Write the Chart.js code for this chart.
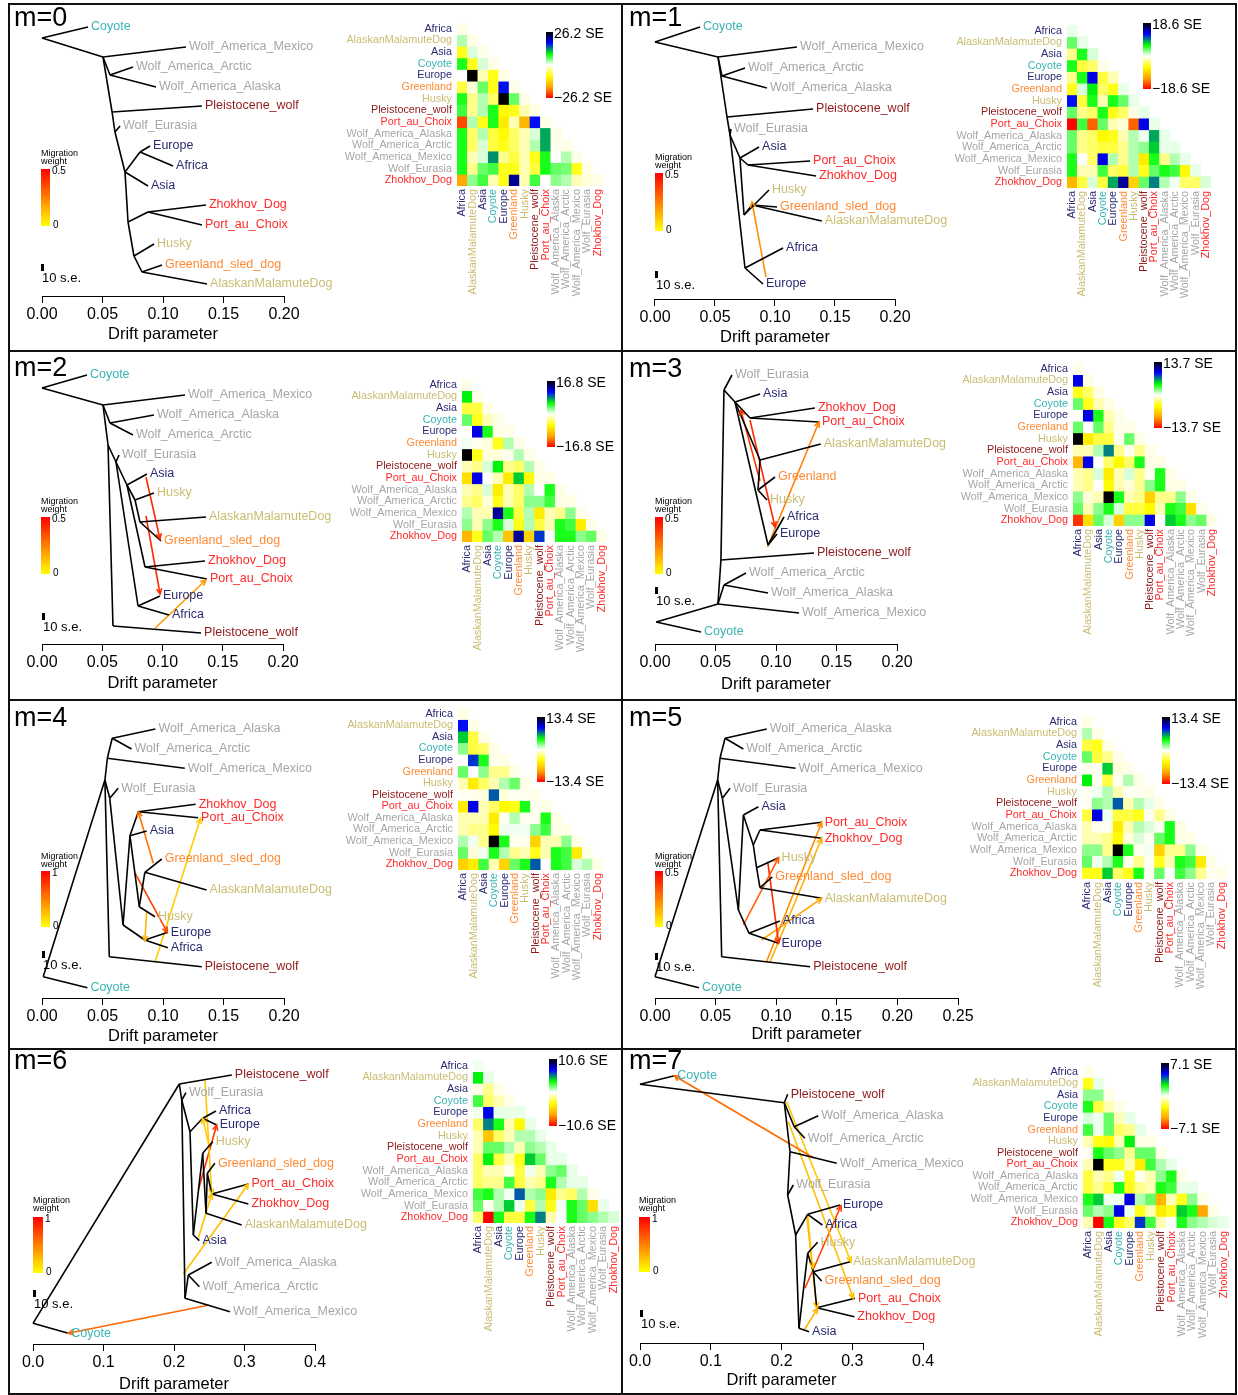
<!DOCTYPE html>
<html>
<head>
<meta charset="utf-8">
<script src="https://cdn.jsdelivr.net/npm/chart.js@4.4.0/dist/chart.umd.min.js"></script>
<style>
body { margin: 0; background: #fff; }
#page { position: relative; width: 1238px; height: 1395px; overflow: hidden; }
canvas { position: absolute; }
.rule { position: absolute; background: #111; }
</style>
</head>
<body>
<div id="page"></div>
<script>
// Populations in residual-matrix order
const pops = ['Africa', 'AlaskanMalamuteDog', 'Asia', 'Coyote', 'Europe', 'Greenland', 'Husky',
    'Pleistocene_wolf', 'Port_au_Choix', 'Wolf_America_Alaska', 'Wolf_America_Arctic',
    'Wolf_America_Mexico', 'Wolf_Eurasia', 'Zhokhov_Dog'];

// max |residual| of each panel's key (SE) and max migration weight of each legend
const seMax = [26.2, 18.6, 16.8, 13.7, 13.4, 13.4, 10.6, 7.1];
const migMax = [0.5, 0.5, 0.5, 0.5, 1, 0.5, 1, 1];
const driftTicks = [
    [0, 0.05, 0.1, 0.15, 0.2], [0, 0.05, 0.1, 0.15, 0.2], [0, 0.05, 0.1, 0.15, 0.2], [0, 0.05, 0.1, 0.15, 0.2],
    [0, 0.05, 0.1, 0.15, 0.2], [0, 0.05, 0.1, 0.15, 0.2, 0.25], [0, 0.1, 0.2, 0.3, 0.4], [0, 0.1, 0.2, 0.3, 0.4]
];

// tree nodes: [name, drift, vertical position, parent]
const nodes0 = [
    ['R', 0, 3.5, null], ['Coyote', 0.038, 2.4, 'R'], ['A', 0.0504, 5.4, 'R'],
    ['Wolf_America_Mexico', 0.119, 4.4, 'A'], ['N1', 0.0562, 7.2, 'A'],
    ['Wolf_America_Arctic', 0.0752, 6.4, 'N1'], ['Wolf_America_Alaska', 0.0942, 8.4, 'N1'],
    ['B', 0.0579, 10.9, 'A'], ['Pleistocene_wolf', 0.1322, 10.3, 'B'], ['C', 0.0603, 12.9, 'B'],
    ['Wolf_Eurasia', 0.0645, 12.3, 'C'], ['D', 0.0686, 16.9, 'C'], ['E', 0.081, 14.9, 'D'],
    ['Europe', 0.0893, 14.3, 'E'], ['Africa', 0.1083, 16.3, 'E'], ['Asia', 0.0876, 18.3, 'D'],
    ['F', 0.0711, 21.9, 'D'], ['G', 0.0876, 20.9, 'F'], ['Zhokhov_Dog', 0.1355, 20.2, 'G'],
    ['Port_au_Choix', 0.1322, 22.2, 'G'], ['H', 0.076, 25.3, 'F'], ['Husky', 0.0926, 24.1, 'H'],
    ['I', 0.0826, 26.9, 'H'], ['Greenland_sled_dog', 0.0992, 26.2, 'I'], ['AlaskanMalamuteDog', 0.1364, 28.1, 'I']
];
const nodes1 = [
    ['R', 0, 3.9, null], ['Coyote', 0.0375, 2.4, 'R'], ['A', 0.0525, 5.4, 'R'],
    ['Wolf_America_Mexico', 0.1183, 4.4, 'A'], ['N1', 0.0558, 7.3, 'A'],
    ['Wolf_America_Arctic', 0.075, 6.5, 'N1'], ['Wolf_America_Alaska', 0.0933, 8.5, 'N1'],
    ['B', 0.06, 11.4, 'A'], ['Pleistocene_wolf', 0.1317, 10.6, 'B'], ['C', 0.0625, 13.2, 'B'],
    ['Wolf_Eurasia', 0.0633, 12.6, 'C'], ['D', 0.0708, 15.5, 'C'], ['Asia', 0.0867, 14.4, 'D'],
    ['E', 0.0775, 16.2, 'D'], ['Port_au_Choix', 0.1292, 15.8, 'E'], ['Zhokhov_Dog', 0.1342, 17.3, 'E'],
    ['F', 0.0742, 21.2, 'D'], ['Husky', 0.095, 18.7, 'F'], ['G', 0.0808, 20.2, 'F'],
    ['Greenland_sled_dog', 0.1017, 20.4, 'G'], ['AlaskanMalamuteDog', 0.139, 21.8, 'G'],
    ['H', 0.075, 26.5, 'C'], ['Africa', 0.1067, 24.5, 'H'], ['Europe', 0.09, 28.1, 'H']
];
const nodes2 = [
    ['R', 0, 3.7, null], ['Coyote', 0.0373, 2.4, 'R'], ['A', 0.0506, 5.4, 'R'],
    ['Wolf_America_Mexico', 0.1187, 4.4, 'A'], ['N1', 0.0564, 7.2, 'A'],
    ['Wolf_America_Alaska', 0.0929, 6.4, 'N1'], ['Wolf_America_Arctic', 0.0755, 8.4, 'N1'],
    ['B', 0.0548, 9.4, 'A'], ['C', 0.0614, 11.1, 'B'], ['Wolf_Eurasia', 0.0639, 10.4, 'C'],
    ['D', 0.0705, 13.4, 'C'], ['Asia', 0.0871, 12.3, 'D'], ['E', 0.0772, 14.9, 'D'],
    ['Husky', 0.0929, 14.2, 'E'], ['F', 0.0813, 17.1, 'E'], ['AlaskanMalamuteDog', 0.1361, 16.6, 'F'],
    ['Greenland_sled_dog', 0.0988, 19.0, 'F'], ['G', 0.0855, 21.6, 'D'], ['Zhokhov_Dog', 0.1353, 21.0, 'G'],
    ['Port_au_Choix', 0.1369, 22.8, 'G'], ['H', 0.0797, 25.5, 'C'], ['Europe', 0.0979, 24.5, 'H'],
    ['Africa', 0.1054, 26.4, 'H'], ['P', 0.0589, 27.5, 'B'], ['Pleistocene_wolf', 0.132, 28.2, 'P']
];
const nodes3 = [
    ['R', 0.001, 27.1, null], ['Coyote', 0.038, 28.1, 'R'], ['A', 0.052, 25.3, 'R'],
    ['Wolf_America_Mexico', 0.119, 26.2, 'A'], ['N1', 0.057, 23.4, 'A'],
    ['Wolf_America_Arctic', 0.0752, 22.2, 'N1'], ['Wolf_America_Alaska', 0.0934, 24.2, 'N1'],
    ['B', 0.0545, 20.9, 'A'], ['Pleistocene_wolf', 0.1314, 20.2, 'B'], ['C', 0.057, 3.9, 'B'],
    ['Wolf_Eurasia', 0.0636, 2.4, 'C'], ['D', 0.0661, 5.1, 'C'], ['Asia', 0.0868, 4.3, 'D'],
    ['E', 0.0785, 6.7, 'D'], ['Zhokhov_Dog', 0.1322, 5.7, 'E'], ['Port_au_Choix', 0.1355, 7.1, 'E'],
    ['F', 0.0868, 10.9, 'D'], ['AlaskanMalamuteDog', 0.137, 9.3, 'F'], ['H', 0.0851, 13.9, 'F'],
    ['Greenland', 0.0992, 12.6, 'H'], ['Husky', 0.0926, 14.9, 'H'], ['G', 0.0934, 19.4, 'D'],
    ['Africa', 0.1066, 16.6, 'G'], ['Europe', 0.1008, 18.3, 'G']
];
const nodes4 = [
    ['R', 0.001, 27.67, null], ['Coyote', 0.0375, 28.77, 'R'], ['A', 0.052, 8.0, 'R'],
    ['N2', 0.054, 5.83, 'A'], ['Wolf_America_Mexico', 0.118, 6.83, 'N2'], ['N1', 0.058, 3.83, 'N2'],
    ['Wolf_America_Alaska', 0.0937, 2.9, 'N1'], ['Wolf_America_Arctic', 0.074, 4.9, 'N1'],
    ['B', 0.056, 9.83, 'A'], ['Wolf_Eurasia', 0.063, 8.83, 'B'], ['P', 0.0556, 25.67, 'A'],
    ['Pleistocene_wolf', 0.132, 26.67, 'P'], ['C', 0.067, 22.5, 'B'], ['D', 0.0727, 13.57, 'C'],
    ['Asia', 0.0865, 13.1, 'D'], ['Z', 0.0796, 11.17, 'D'], ['Zhokhov_Dog', 0.127, 10.43, 'Z'],
    ['Port_au_Choix', 0.129, 11.77, 'Z'], ['G', 0.0804, 20.67, 'D'], ['Husky', 0.0934, 21.67, 'G'],
    ['H', 0.085, 17.23, 'G'], ['Greenland_sled_dog', 0.099, 15.9, 'H'], ['AlaskanMalamuteDog', 0.136, 19.0, 'H'],
    ['F', 0.085, 24.0, 'C'], ['Africa', 0.104, 24.77, 'F'], ['Europe', 0.104, 23.23, 'F']
];
const nodes5 = [
    ['R', 0, 27.67, null], ['Coyote', 0.0363, 28.77, 'R'], ['A', 0.0517, 8.0, 'R'],
    ['N2', 0.0536, 5.83, 'A'], ['Wolf_America_Mexico', 0.116, 6.83, 'N2'], ['N1', 0.0578, 3.83, 'N2'],
    ['Wolf_America_Alaska', 0.0922, 2.9, 'N1'], ['Wolf_America_Arctic', 0.0729, 4.9, 'N1'],
    ['B', 0.0556, 9.83, 'A'], ['Wolf_Eurasia', 0.0619, 8.83, 'B'], ['P', 0.055, 25.67, 'A'],
    ['Pleistocene_wolf', 0.128, 26.67, 'P'], ['C', 0.0688, 21.0, 'B'], ['F', 0.0776, 23.33, 'C'],
    ['Africa', 0.103, 22.1, 'F'], ['Europe', 0.102, 24.33, 'F'], ['D', 0.0729, 11.5, 'C'],
    ['Asia', 0.0853, 10.67, 'D'], ['E', 0.0811, 14.5, 'D'], ['Z', 0.0866, 13.0, 'E'],
    ['Port_au_Choix', 0.1375, 12.23, 'Z'], ['Zhokhov_Dog', 0.1375, 13.83, 'Z'], ['Hk', 0.0838, 16.77, 'E'],
    ['Husky', 0.102, 15.77, 'Hk'], ['H', 0.0866, 18.77, 'Hk'], ['Greenland_sled_dog', 0.0968, 17.7, 'H'],
    ['AlaskanMalamuteDog', 0.1375, 19.83, 'H']
];
const nodes6 = [
    ['R', 0, 27.43, null], ['Coyote', 0.05, 28.43, 'R'], ['A', 0.2075, 3.5, 'R'],
    ['Pleistocene_wolf', 0.282, 2.6, 'A'], ['B', 0.211, 5.1, 'A'], ['Wolf_Eurasia', 0.217, 4.37, 'B'],
    ['C', 0.2156, 24.93, 'B'], ['Wolf_America_Mexico', 0.2794, 26.27, 'C'], ['D', 0.2203, 22.6, 'C'],
    ['Wolf_America_Alaska', 0.2535, 21.33, 'D'], ['Wolf_America_Arctic', 0.236, 23.77, 'D'],
    ['E', 0.2227, 8.27, 'B'], ['F', 0.2407, 6.93, 'E'], ['Africa', 0.2596, 6.2, 'F'], ['Europe', 0.2605, 7.6, 'F'],
    ['G', 0.2274, 18.6, 'E'], ['Asia', 0.236, 19.17, 'G'], ['H', 0.2407, 10.43, 'G'], ['Husky', 0.2549, 9.27, 'H'],
    ['I', 0.2454, 16.43, 'H'], ['AlaskanMalamuteDog', 0.296, 17.6, 'I'], ['J', 0.2473, 12.43, 'I'],
    ['Greenland_sled_dog', 0.258, 11.43, 'J'], ['K', 0.2535, 14.5, 'J'], ['Port_au_Choix', 0.3055, 13.5, 'K'],
    ['Zhokhov_Dog', 0.3055, 15.5, 'K']
];
const nodes7 = [
    ['R', 0, 3.53, null], ['Coyote', 0.0485, 2.67, 'R'], ['A', 0.204, 5.37, 'R'],
    ['Pleistocene_wolf', 0.2087, 4.53, 'A'], ['B', 0.218, 7.77, 'A'], ['Wolf_America_Alaska', 0.252, 6.67, 'B'],
    ['Wolf_America_Arctic', 0.233, 8.93, 'B'], ['C', 0.212, 10.27, 'A'], ['Wolf_America_Mexico', 0.278, 11.43, 'C'],
    ['D', 0.2087, 14.6, 'C'], ['Wolf_Eurasia', 0.2167, 13.6, 'D'], ['E', 0.22, 18.6, 'D'],
    ['F', 0.237, 16.53, 'E'], ['Europe', 0.2827, 15.6, 'F'], ['Africa', 0.2577, 17.6, 'F'],
    ['G', 0.2247, 27.93, 'E'], ['Asia', 0.239, 28.27, 'G'], ['H', 0.237, 20.43, 'G'], ['Husky', 0.251, 19.33, 'H'],
    ['I', 0.245, 22.27, 'H'], ['AlaskanMalamuteDog', 0.297, 21.27, 'I'], ['Greenland_sled_dog', 0.2567, 23.2, 'I'],
    ['J', 0.2497, 25.87, 'I'], ['Port_au_Choix', 0.3039, 24.93, 'J'], ['Zhokhov_Dog', 0.303, 26.77, 'J']
];

// migration edges: [from drift, from position, to drift, to position, weight]
const migr0 = [];
const migr1 = [[0.0925, 27.4, 0.0808, 19.9, 0.22]];
const migr2 = [[0.0863, 12.6, 0.0979, 18.8, 0.42], [0.0863, 16.5, 0.098, 24.3, 0.42], [0.094, 27.7, 0.136, 22.9, 0.2]];
const migr3 = [[0.0785, 6.9, 0.0992, 17.6, 0.42], [0.0868, 13.0, 0.0709, 5.9, 0.4], [0.093, 19.6, 0.1355, 7.1, 0.25]];
const migr4 = [[0.092, 16.33, 0.0796, 11.17, 0.55], [0.077, 17.33, 0.1036, 23.23, 0.75],
    [0.0865, 21.17, 0.085, 24.1, 0.3], [0.0934, 26.23, 0.131, 11.83, 0.2]];
const migr5 = [[0.0729, 22.5, 0.102, 15.77, 0.32], [0.093, 16.17, 0.102, 24.33, 0.42],
    [0.092, 26.17, 0.1375, 12.23, 0.22], [0.095, 26.17, 0.1375, 13.83, 0.15], [0.088, 24.0, 0.1375, 19.83, 0.17]];
const migr6 = [[0.244, 3.17, 0.2535, 14.5, 0.22], [0.25, 9.77, 0.2407, 6.93, 0.2], [0.2345, 14.1, 0.2605, 7.6, 0.8],
    [0.2345, 18.93, 0.2535, 14.5, 0.25], [0.2132, 22.5, 0.3055, 13.5, 0.25], [0.25, 25.6, 0.05, 28.43, 0.6]];
const migr7 = [[0.245, 10.87, 0.0485, 2.67, 0.58], [0.2073, 5.27, 0.2982, 21.27, 0.22], [0.2097, 7.27, 0.3015, 24.93, 0.25],
    [0.2356, 16.6, 0.2497, 25.87, 0.25], [0.2332, 23.93, 0.2841, 15.67, 0.75], [0.2322, 28.1, 0.2511, 25.93, 0.3],
    [0.237, 16.6, 0.244, 21.9, 0.2]];

// residuals, lower triangle, in tenths of the panel's max SE
const resid0 = [
    [-0.3], [1, -0.3], [-3, 0.5, -0.3], [3, -3, 0.5, -0.3], [0, 10, -1, -3, -0.3], [-2.5, -0.5, 2, -3, 6.5, -0.3],
    [3, -1.5, 1, -2, 10, 2, -0.3], [2.5, -1.5, 1, 3, -3.5, -3, -1, -0.3], [-8.5, 1, -3, 3, -4, -1, -6, 6.5, -0.3],
    [3, -2, 1, -2.5, -3.5, -2, -1, 0.5, 4.5, -0.3], [3, -2, 0.5, -2.5, -3, -2, -1, 1, 4.5, -0.2, -0.3],
    [3, -1, 0.5, 4.8, -1.5, -2.5, -1, -3, 3, 0, 1, -0.3], [3, -1.5, 2, 2.5, -3, -3, -1, -2.5, 3, 2, 1.8, -3, -0.3],
    [-6.5, 1.5, 2.5, -1, -3, 8, -1, 2.5, 0, 1.5, 1, -1, -0.5, -0.3]
];
const resid1 = [
    [0.3], [2, 0.3], [-1.5, 3, 0.5], [3, -2.5, -2, -0.3], [-1.5, 3, 7, -2.5, -1], [-3, 0.5, 3.5, -2, -3, 0.3],
    [6.5, -2.5, 3, -1, 3, 2, 0.3], [2, -1.5, -2, 3, -3, -2, -0.3, 0.3], [-10, 2.5, -8, 2, -1, -0.5, -8, 7, 0.3],
    [2, -1.5, -2, -3.5, -3, -1, 1, 0.2, 4.5, 0.3], [2, -1.5, -2, -2.5, -2.5, -1.5, 1, 1.5, 4, 0.3, 0.3],
    [3, 0, -2, 7, 1, -1.5, 1, -4, 3, -1.5, 1, 0.3], [3, -1, -1, 2.5, -2, -2.5, 1, -3, 2, 3, 2.5, -3.5, 0.3],
    [-6, -2.5, 0.5, -2.5, 4.5, 8, -5, 2, 5, 1, 0.2, -2, -2, 0.5]
];
const resid2 = [
    [-0.3], [3.5, -0.3], [-2.5, -2.5, -0.3], [2, -3, -1, -0.3], [0, 7, 3, -0.3, -0.3], [0.2, -0.2, -0.5, -3, 1, -0.3],
    [10, -3, -0.5, -0.5, -0.2, 1, -0.3], [-1, -1.5, 0.5, 3.5, -1.5, -2, 1, -0.3], [-4.5, 7, 0, -1, -4, 4, -3.5, -0.3, -0.3],
    [-1, -1.5, 0.5, -4, -1, -2, 1, 0, 3, -0.3], [-1.5, -2, -0.5, -3, -1, -2, 1.5, 1.5, 2.5, -0.3, -0.3],
    [1, -1, -1, 8, 3, -2.5, 1, -4, -1, -1.5, 1.5, -0.3], [1.5, -1, 1.5, 3, 0.5, -3, 1, -2.5, -1, 3, 2.5, -4, -0.3],
    [-6, -3, 2, 1, -5.5, 8, -5, 6, 0, 3, 3, 1.5, 2, -0.3]
];
const resid3 = [
    [-0.3], [7, -0.3], [-3, -2, -0.3], [2, -3, -1, -0.3], [0, 7, 3, -1, -0.3], [2, 0, 2, -1.5, -0.3, -0.3],
    [10, -4, -2.5, -2.5, -0.2, 2, -0.3], [-1, -1, 1, 5, -1.5, -0.2, -1.5, -0.3], [-6, 7, 0, -2, -3.5, -2, 3, -0.3, -0.3],
    [-1, -1.5, 0.5, -4, -1, 0.5, -1.5, -0.2, 3, -0.3], [-1, -1.5, 0, -3.5, -1, -0.5, -1.5, 1.5, 3, -0.3, -0.3],
    [1.5, -0.5, -1, 10, 3, -1, -1.5, -5, -1.5, -1.5, 1.5, -0.3], [2, -1, 1.5, 3, 0.5, -2.5, -2.5, -3.5, -1, 3, 2.5, -4.5, -0.3],
    [-9, -4.5, 2, 0.5, -5, 1.5, 1.5, 7, 0, 4, 3, 1.5, 2, -0.3]
];
const resid4 = [
    [-0.3], [6.5, -0.3], [4, -2.5, -0.3], [1.5, -2.5, -2, -0.3], [0, 6, 3, -0.2, -0.3], [2, 0, 1.5, -1.5, -1.5, -0.3],
    [-1, -4, -2, -1, 1, 2, -0.3], [-0.2, -0.2, -0.5, 5.5, -0.5, -0.2, -0.2, -0.3], [-4, 7, -1, -2, -3.5, -3, 3, -0.2, -0.3],
    [-1, -1, -1, -4, -0.2, 1, -0.2, -0.2, 3, -0.3], [-1, -1.5, -1.5, -3.5, 0.2, 0.2, 0.2, 1.5, 2.5, -0.3, -0.3],
    [1, 0.2, -1.5, 10, 3, -0.2, -0.2, -5, -1, -1, 1.5, -0.3], [2, -0.5, 0.2, 3, 1, -1.5, -1, -3, -1, 3, 2.5, -4, -0.3],
    [-5, -4, 2.5, -1, -5, 2, 3, 5.5, 0, 3, 2.5, 0.5, 1, -0.3]
];
const resid5 = [
    [-0.3], [1, -0.3], [-2.5, -3, -0.3], [2, -2.5, -1.5, -0.3], [-0.2, -0.2, 4, -0.5, -0.3], [3.5, -0.2, -2.5, -0.2, 1, -0.3],
    [-0.2, 0.2, 1, -1, -0.2, -0.2, -0.3], [-0.2, 1.5, 1, 5.5, -1, 1, 0.3, -0.3], [-2.5, 7, 0.2, -2.5, -2.5, -3, -0.2, -1.5, -0.3],
    [-1, -0.2, -0.2, -4, -1, 1, 0.5, -0.2, 3, -0.3], [-1, -1, -1.5, -3.5, -0.5, 0.5, -0.2, 2, 3, -0.3, -0.3],
    [1.5, 1.5, -1.5, 10, 3, -0.2, 0.2, -5, -1.5, -1.5, 1.5, -0.3], [2, 0.2, 1, 3, -0.2, -1.5, -0.2, -3, -1, 3, 2.5, -4, -0.3],
    [-3, -3, 4, -2, -3, 3, -0.2, 2, 0, 2.5, 1.5, -1.5, -0.2, -0.3]
];
const resid6 = [
    [0.2], [3.5, 0.3], [-0.3, -1.5, -0.3], [2.5, -2, -1, -0.3], [0.2, 7, 0.3, 0.3, 0.3], [-2, 5, 3, -1, -3.5, 0.3],
    [-1, -5.5, -2, -1, 1, 1, 0.3], [-1, 2, 2, 1, -1, 1.5, 1, 0.3], [-2, 3.5, -2.5, -1, -3, 4, 2, 0.3, 0.3],
    [-2, -1, -1, -0.2, -2.5, 0.2, -1, 1.5, 2, 0.3], [-2, -1.5, -1.5, 2.5, -2.5, -1, -1.5, 3, 1, 0.3, 0.3],
    [2.5, 3, 1, 0.2, 5.5, 1, 1.5, -4, -1.5, -2, 1, -0.3], [2, -0.2, 1, 4, 0.2, -2.5, 1, -3, 0.2, 3, 2, -4.5, 0.3],
    [-2, -10, 3, -2.5, -2.5, 3, 5, -1, 0, 3, 2, 1.5, 1, 0.5]
];
const resid7 = [
    [-0.3], [-3, 0.3], [1.5, 1.5, -0.3], [3, -2.5, -1, -0.3], [0.5, 0.2, 2, -1, 0.3], [2.5, 0.2, 2, -2, -1.5, 0.3],
    [-1, -3, -3.5, -1, 3.5, -0.3, -0.3], [-0.2, 3, 2, 1.5, -1.5, 2, 2, -0.3], [-1, 10, -3, -3, -1, -4, 2.5, 1, 0.3],
    [-2.5, -1, -1.5, 0.2, -3, -0.2, -1, 1.5, 3, -0.3], [-2.5, -1.5, -2.5, 3, -3, -1.5, -1, 3, 2.5, 0.3, 0.3],
    [3, 4, 0.2, 0.2, 7, 1, 2, -6, -1, -3, 1.5, -0.3], [2, 1, 1.5, 7, 0.2, -3, -1, -4, -3, 4, 3, -6.5, -0.3],
    [-1, -10, 3, -3, -2, 6, 2.5, -1, 0, 3, 1.5, 1, 0.5, 0.3]
];

const panelNodes = [nodes0, nodes1, nodes2, nodes3, nodes4, nodes5, nodes6, nodes7];
const panelMigr = [migr0, migr1, migr2, migr3, migr4, migr5, migr6, migr7];
const panelResid = [resid0, resid1, resid2, resid3, resid4, resid5, resid6, resid7];

// page layout of each panel
const panels = [
    { left: 8, top: 3, x0: 42, ppu: 1210, axisY: 296, titleY: 334, label: [14, 19], heat: [457, 23, 146, 163], key: [546, 32, 7, 66], mig: [41, 149], bar: [41, 169, 9, 57], se: [41, 264] },
    { left: 622, top: 3, x0: 655, ppu: 1200, axisY: 299, titleY: 337, label: [629, 19], heat: [1067, 25, 144, 163], key: [1143, 23, 8, 66], mig: [655, 153], bar: [655, 173, 8, 58], se: [655, 271] },
    { left: 8, top: 351, x0: 42, ppu: 1205, axisY: 644, titleY: 683, label: [14, 369], heat: [462, 379, 145, 163], key: [547, 381, 8, 66], mig: [41, 497], bar: [41, 517, 9, 57], se: [42, 613] },
    { left: 622, top: 351, x0: 655, ppu: 1210, axisY: 644, titleY: 684, label: [629, 370], heat: [1073, 363, 144, 163], key: [1154, 362, 8, 66], mig: [655, 497], bar: [655, 517, 8, 57], se: [655, 587] },
    { left: 8, top: 700, x0: 42, ppu: 1210, axisY: 998, titleY: 1036, label: [14, 719], heat: [458, 708, 145, 162], key: [537, 717, 8, 65], mig: [41, 852], bar: [41, 871, 9, 56], se: [42, 951] },
    { left: 622, top: 700, x0: 655, ppu: 1212, axisY: 998, titleY: 1034, label: [629, 719], heat: [1082, 716, 145, 163], key: [1162, 717, 8, 67], mig: [655, 852], bar: [655, 871, 8, 56], se: [655, 953] },
    { left: 8, top: 1049, x0: 33, ppu: 705, axisY: 1344, titleY: 1384, label: [14, 1062], heat: [473, 1060, 146, 163], key: [549, 1059, 8, 67], mig: [33, 1196], bar: [33, 1217, 10, 56], se: [33, 1290] },
    { left: 622, top: 1049, x0: 640, ppu: 707.5, axisY: 1343, titleY: 1380, label: [629, 1062], heat: [1083, 1066, 146, 162], key: [1161, 1063, 8, 66], mig: [639, 1196], bar: [639, 1217, 11, 55], se: [640, 1310] }
];

const popColor = {
    Africa: '#2b2b72', Asia: '#2b2b72', Europe: '#2b2b72',
    AlaskanMalamuteDog: '#c9bd72', Husky: '#c9bd72', Coyote: '#3bb3b3',
    Greenland: '#ff8a33', Greenland_sled_dog: '#ff8a33', Pleistocene_wolf: '#8e1a1a',
    Port_au_Choix: '#ff2a2a', Zhokhov_Dog: '#ff2a2a',
    Wolf_America_Alaska: '#a6a6a6', Wolf_America_Arctic: '#a6a6a6', Wolf_America_Mexico: '#a6a6a6', Wolf_Eurasia: '#a6a6a6'
};

const FONT = '"Liberation Sans", Arial, sans-serif';
Chart.defaults.font.family = FONT;
Chart.defaults.color = '#000';

const rampStops = [[255, 0, 0], [255, 165, 0], [255, 255, 0], [255, 255, 255], [0, 255, 0], [0, 0, 255], [0, 0, 0]];
function residColor(f) {
    const t = (Math.max(-1, Math.min(1, f)) + 1) / 2 * 6;
    const k = Math.min(5, Math.floor(t)), u = t - k;
    const a = rampStops[k], b = rampStops[k + 1];
    return 'rgb(' + a.map((v, j) => Math.round(v + (b[j] - v) * u)).join(',') + ')';
}
function migColor(f) {
    return 'rgb(255,' + Math.round(255 * (1 - Math.min(1, f))) + ',0)';
}

const page = document.getElementById('page');
function addCanvas(left, top, w, h) {
    const c = document.createElement('canvas');
    c.width = w; c.height = h;
    c.style.left = left + 'px'; c.style.top = top + 'px';
    c.style.width = w + 'px'; c.style.height = h + 'px';
    page.appendChild(c);
    return c;
}

// labels, arrowheads, axis line, axis title and legends of a tree panel
const treeDecor = {
    id: 'treeDecor',
    afterDatasetsDraw(chart, args, opts) {
        const i = opts.index, p = panels[i];
        const { ctx, chartArea } = chart;
        const x = chart.scales.x, y = chart.scales.y;
        const ox = p.left, oy = p.top;
        ctx.save();

        const t = driftTicks[i];
        const x1 = x.getPixelForValue(t[0]), x2 = x.getPixelForValue(t[t.length - 1]);
        ctx.strokeStyle = '#000';
        ctx.lineWidth = 1;
        ctx.beginPath();
        ctx.moveTo(x1, chartArea.bottom + 0.5);
        ctx.lineTo(x2, chartArea.bottom + 0.5);
        ctx.stroke();
        ctx.fillStyle = '#000';
        ctx.font = '16.5px ' + FONT;
        ctx.textAlign = 'center';
        ctx.textBaseline = 'middle';
        ctx.fillText('Drift parameter', (x1 + x2) / 2, p.titleY - oy);

        chart.data.datasets.forEach((ds, k) => {
            if (!ds.migration) return;
            const pts = chart.getDatasetMeta(k).data;
            const a = Math.atan2(pts[1].y - pts[0].y, pts[1].x - pts[0].x);
            ctx.strokeStyle = ds.borderColor;
            ctx.lineWidth = 1.6;
            ctx.beginPath();
            ctx.moveTo(pts[1].x - 6 * Math.cos(a - 0.45), pts[1].y - 6 * Math.sin(a - 0.45));
            ctx.lineTo(pts[1].x, pts[1].y);
            ctx.lineTo(pts[1].x - 6 * Math.cos(a + 0.45), pts[1].y - 6 * Math.sin(a + 0.45));
            ctx.stroke();
        });

        ctx.font = '12.5px ' + FONT;
        ctx.textAlign = 'left';
        panelNodes[i].forEach(n => {
            if (!popColor[n[0]]) return;
            ctx.fillStyle = popColor[n[0]];
            ctx.fillText(n[0], x.getPixelForValue(n[1]) + 3, y.getPixelForValue(n[2]));
        });

        ctx.fillStyle = '#000';
        ctx.font = '27px ' + FONT;
        ctx.fillText('m=' + i, p.label[0] - ox, p.label[1] - oy);

        // migration weight key
        ctx.font = '9px ' + FONT;
        ctx.textBaseline = 'top';
        ctx.fillText('Migration', p.mig[0] - ox, p.mig[1] - oy);
        ctx.fillText('weight', p.mig[0] - ox, p.mig[1] - oy + 8);
        const [bx, by, bw, bh] = p.bar;
        const g = ctx.createLinearGradient(0, by - oy, 0, by - oy + bh);
        g.addColorStop(0, migColor(1));
        g.addColorStop(1, migColor(0));
        ctx.fillStyle = g;
        ctx.fillRect(bx - ox, by - oy, bw, bh);
        ctx.fillStyle = '#000';
        ctx.font = '10px ' + FONT;
        ctx.textBaseline = 'middle';
        ctx.fillText(String(migMax[i]), bx - ox + bw + 2, by - oy + 2);
        ctx.fillText('0', bx - ox + bw + 3, by - oy + bh - 1);

        // 10 s.e. bar
        ctx.fillRect(p.se[0] - ox, p.se[1] - oy, 3, 7);
        ctx.font = '13px ' + FONT;
        ctx.fillText('10 s.e.', p.se[0] - ox + 1, p.se[1] - oy + 14);
        ctx.restore();
    }
};

function drawTree(i) {
    const p = panels[i];
    const W = 365, H = p.titleY + 12 - p.top;
    const areaH = p.axisY - p.top;
    const canvas = addCanvas(p.left, p.top, W, H);
    const nodes = panelNodes[i];
    const byName = {};
    nodes.forEach(n => { byName[n[0]] = n; });

    const datasets = [];
    nodes.forEach(n => {
        if (n[3] === null) return;
        const par = byName[n[3]];
        datasets.push({
            data: [{ x: par[1], y: par[2] }, { x: n[1], y: n[2] }],
            borderColor: '#000', borderWidth: 1.6, showLine: true, pointRadius: 0
        });
    });
    panelMigr[i].forEach(m => {
        datasets.push({
            data: [{ x: m[0], y: m[1] }, { x: m[2], y: m[3] }],
            borderColor: migColor(m[4] / migMax[i]), borderWidth: 1.6, showLine: true, pointRadius: 0,
            migration: true
        });
    });

    const dec = driftTicks[i][1] < 0.1 ? 2 : 1;
    new Chart(canvas, {
        type: 'scatter',
        data: { datasets },
        options: {
            responsive: false, animation: false, devicePixelRatio: 1, events: [],
            layout: { padding: 0 },
            plugins: { legend: { display: false }, tooltip: { enabled: false }, treeDecor: { index: i } },
            scales: {
                x: {
                    type: 'linear',
                    min: (p.left - p.x0) / p.ppu,
                    max: (p.left + W - p.x0) / p.ppu,
                    afterBuildTicks: s => { s.ticks = driftTicks[i].map(v => ({ value: v })); },
                    afterFit: s => { s.height = H - areaH; },
                    border: { display: false },
                    grid: { drawOnChartArea: false, drawTicks: true, tickLength: 7, color: '#000' },
                    ticks: { font: { size: 16 }, color: '#000', padding: 2, maxRotation: 0, autoSkip: false,
                        callback: v => v.toFixed(dec) }
                },
                y: { display: false, reverse: true, min: 0, max: areaH / 10 }
            }
        },
        plugins: [treeDecor]
    });
}

// residual key of a heatmap panel
const heatKey = {
    id: 'heatKey',
    afterDraw(chart, args, opts) {
        const i = opts.index, p = panels[i];
        const ox = p.heat[0] - 120, oy = p.heat[1] - 16;
        const [kx, ky, kw, kh] = p.key;
        const ctx = chart.ctx;
        ctx.save();
        const g = ctx.createLinearGradient(0, ky - oy, 0, ky - oy + kh);
        rampStops.slice().reverse().forEach((c, j) => g.addColorStop(j / 6, 'rgb(' + c.join(',') + ')'));
        ctx.fillStyle = g;
        ctx.fillRect(kx - ox, ky - oy, kw, kh);
        ctx.fillStyle = '#000';
        ctx.font = '14px ' + FONT;
        ctx.textBaseline = 'middle';
        ctx.fillText(seMax[i] + ' SE', kx - ox + kw + 1, ky - oy + 2);
        ctx.fillText('\u2212' + seMax[i] + ' SE', kx - ox + kw + 1, ky - oy + kh);
        ctx.restore();
    }
};

function drawHeat(i) {
    const p = panels[i];
    const [hx, hy, hw, hh] = p.heat;
    const W = 120 + hw + 32, H = 16 + hh + 115;
    const canvas = addCanvas(hx - 120, hy - 16, W, H);
    const resid = panelResid[i];
    const datasets = resid.map((row, r) => ({
        data: pops.map((q, c) => (c <= r ? [r, r + 1] : null)),
        backgroundColor: pops.map((q, c) => (c <= r ? residColor(row[c] / 10) : 'rgba(0,0,0,0)')),
        borderWidth: 0, grouped: false, barPercentage: 1, categoryPercentage: 1
    }));
    new Chart(canvas, {
        type: 'bar',
        data: { labels: pops, datasets },
        options: {
            responsive: false, animation: false, devicePixelRatio: 1, events: [],
            layout: { padding: { top: 16, right: 32, left: 0, bottom: 0 } },
            plugins: { legend: { display: false }, tooltip: { enabled: false }, heatKey: { index: i } },
            scales: {
                x: {
                    type: 'category',
                    afterFit: s => { s.height = 115; },
                    border: { display: false }, grid: { display: false, drawTicks: false },
                    ticks: { autoSkip: false, minRotation: 90, maxRotation: 90, padding: 3, font: { size: 10.8 },
                        color: c => popColor[pops[c.index]] }
                },
                y: {
                    type: 'linear', min: 0, max: pops.length, reverse: true,
                    afterFit: s => { s.width = 120; },
                    afterBuildTicks: s => { s.ticks = pops.map((q, k) => ({ value: k + 0.5 })); },
                    border: { display: false }, grid: { display: false, drawTicks: false },
                    ticks: { autoSkip: false, padding: 5, font: { size: 10.8 },
                        callback: (v, k) => pops[k], color: c => popColor[pops[c.index]] }
                }
            }
        },
        plugins: [heatKey]
    });
}

panels.forEach((p, i) => { drawTree(i); drawHeat(i); });

// panel frame
[[8, 3, 1228, 2], [8, 350, 1228, 2], [8, 699, 1228, 2], [8, 1048, 1228, 2], [8, 1393, 1228, 2],
 [8, 3, 2, 1392], [621, 3, 2, 1392], [1235, 3, 2, 1392]].forEach(r => {
    const d = document.createElement('div');
    d.className = 'rule';
    d.style.left = r[0] + 'px'; d.style.top = r[1] + 'px';
    d.style.width = r[2] + 'px'; d.style.height = r[3] + 'px';
    page.appendChild(d);
});
</script>
</body>
</html>
